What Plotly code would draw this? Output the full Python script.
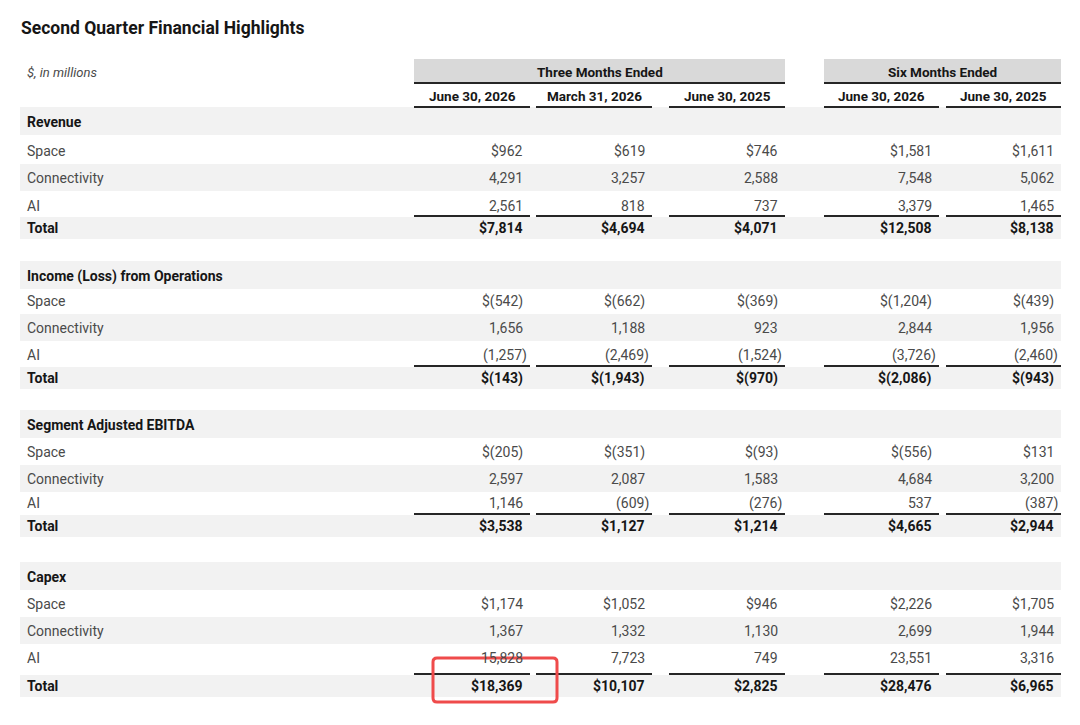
import plotly.graph_objects as go

title = "Second Quarter Financial Highlights"
unit_note = "$, in millions"

period_groups = ["Three Months Ended", "Six Months Ended"]
periods = ["June 30, 2026", "March 31, 2026", "June 30, 2025", "June 30, 2026", "June 30, 2025"]

sections = ["Revenue", "Income (Loss) from Operations", "Segment Adjusted EBITDA", "Capex"]
segments = ["Space", "Connectivity", "AI"]

revenue_space = [962, 619, 746, 1581, 1611]
revenue_connectivity = [4291, 3257, 2588, 7548, 5062]
revenue_ai = [2561, 818, 737, 3379, 1465]
revenue_total = [7814, 4694, 4071, 12508, 8138]

income_space = [-542, -662, -369, -1204, -439]
income_connectivity = [1656, 1188, 923, 2844, 1956]
income_ai = [-1257, -2469, -1524, -3726, -2460]
income_total = [-143, -1943, -970, -2086, -943]

ebitda_space = [-205, -351, -93, -556, 131]
ebitda_connectivity = [2597, 2087, 1583, 4684, 3200]
ebitda_ai = [1146, -609, -276, 537, -387]
ebitda_total = [3538, 1127, 1214, 4665, 2944]

capex_space = [1174, 1052, 946, 2226, 1705]
capex_connectivity = [1367, 1332, 1130, 2699, 1944]
capex_ai = [15828, 7723, 749, 23551, 3316]
capex_total = [18369, 10107, 2825, 28476, 6965]

section_rows = [
    [revenue_space, revenue_connectivity, revenue_ai, revenue_total],
    [income_space, income_connectivity, income_ai, income_total],
    [ebitda_space, ebitda_connectivity, ebitda_ai, ebitda_total],
    [capex_space, capex_connectivity, capex_ai, capex_total],
]

# highlighted cell: (section, row, column)
highlight = (3, 4, 0)

# ---- layout (pixel space of the 1080x725 page; the page body adds 8px) ----
W, H = 1080, 725
PAD = 8
FONT = "Roboto"
DARK = "#161616"
GREY_TXT = "#4a4a4a"
BAND = "#f2f2f2"
HEAD_BAND = "#d9d9d9"
RULE = "#262626"

col_spans = [(414, 530), (536, 652), (669, 785), (824, 939), (946, 1061)]
group_spans = [(414, 785), (824, 1061)]
table_left, table_right = 20, 1061
label_x = 25

# row centres per section: header, Space, Connectivity, AI, Total
row_y = [
    [122, 151, 178, 206, 228],
    [276, 301, 328, 355, 378],
    [425, 452, 479, 503, 526],
    [577, 604, 631, 658, 686],
]


def fmt(v, dollar):
    s = f"{abs(v):,}"
    if v < 0:
        s = f"({s})"
    return ("$" + s) if dollar else s


fig = go.Figure()
shapes = []
annotations = []


def text(x, y, s, anchor="left", size=14, color=DARK, bold=False, italic=False, xshift=0):
    if bold:
        s = f"<b>{s}</b>"
    if italic:
        s = f"<i>{s}</i>"
    annotations.append(dict(
        x=x, y=y, xref="x", yref="y", text=s, showarrow=False,
        xanchor=anchor, yanchor="middle", xshift=xshift,
        font=dict(family=FONT, size=size, color=color),
    ))


def band(y0, y1, x0=table_left, x1=table_right, color=BAND):
    shapes.append(dict(type="rect", xref="x", yref="y", x0=x0, x1=x1, y0=y0, y1=y1,
                       fillcolor=color, line=dict(width=0), layer="below"))


def rule(x0, x1, y, width=2):
    shapes.append(dict(type="line", xref="x", yref="y", x0=x0, x1=x1, y0=y, y1=y,
                       line=dict(color=RULE, width=width)))


# title and header
text(19, 28, title, size=17.5, bold=True)
text(label_x, 72, unit_note, size=13, color=GREY_TXT, italic=True)

for g, name in enumerate(period_groups):
    x0, x1 = group_spans[g]
    band(59, 83, x0, x1, HEAD_BAND)
    rule(x0, x1, 83)
    text((x0 + x1) / 2, 72, name, anchor="center", size=13.5, bold=True)

for c, name in enumerate(periods):
    x0, x1 = col_spans[c]
    text((x0 + x1) / 2, 96, name, anchor="center", size=13.5, bold=True)
    rule(x0, x1, 107)

# body
for s, sec in enumerate(sections):
    ys = row_y[s]
    band(ys[0] - 15, ys[0] + 13)
    band(ys[2] - 14, ys[2] + 13)
    band(ys[4] - 11, ys[4] + 11)
    text(label_x, ys[0], sec, bold=True)
    labels = segments + ["Total"]
    for r, lab in enumerate(labels):
        y = ys[r + 1]
        is_total = r == len(labels) - 1
        text(label_x, y, lab, bold=is_total, color=DARK if is_total else GREY_TXT)
        vals = section_rows[s][r]
        dollar = r == 0 or is_total
        for c, v in enumerate(vals):
            x0, x1 = col_spans[c]
            shift = 4 if (v < 0 and not dollar) else 0
            text(x1 - 5, y, fmt(v, dollar), anchor="right", bold=is_total,
                 color=DARK if is_total else GREY_TXT, xshift=shift)
        if is_total:
            for x0, x1 in col_spans:
                rule(x0, x1, y - 12)

# red highlight box around the chosen cell
hs, hr, hc = highlight
cx0, cx1 = col_spans[hc]
cy = row_y[hs][hr]
bx0, bx1, by0, by1 = cx0 + 19, cx1 + 27, cy - 28, cy + 16
rr = 4
path = (f"M {bx0 + rr},{by0} L {bx1 - rr},{by0} Q {bx1},{by0} {bx1},{by0 + rr} "
        f"L {bx1},{by1 - rr} Q {bx1},{by1} {bx1 - rr},{by1} "
        f"L {bx0 + rr},{by1} Q {bx0},{by1} {bx0},{by1 - rr} "
        f"L {bx0},{by0 + rr} Q {bx0},{by0} {bx0 + rr},{by0} Z")
shapes.append(dict(type="path", xref="x", yref="y", path=path,
                   line=dict(color="#ef4b4b", width=3)))

fig.update_layout(
    width=W - PAD, height=H - PAD,
    margin=dict(l=0, r=0, t=0, b=0),
    paper_bgcolor="white", plot_bgcolor="white",
    shapes=shapes, annotations=annotations,
    showlegend=False,
)
fig.update_xaxes(range=[PAD, W], visible=False, fixedrange=True)
fig.update_yaxes(range=[H, PAD], visible=False, fixedrange=True)

fig.write_html("out.html")
